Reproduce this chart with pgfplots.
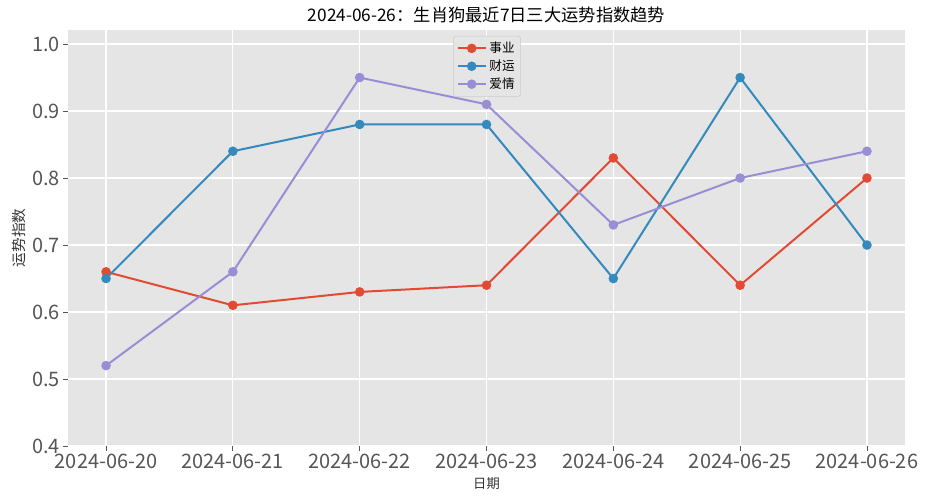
\documentclass[border=0pt]{standalone}
\usepackage{pgfplots}
\pgfplotsset{compat=1.18}
\usepackage{fontspec}
\setmainfont{Noto Sans CJK SC}
\definecolor{bgc}{HTML}{E5E5E5}
\definecolor{tickc}{HTML}{555555}
\definecolor{c1}{HTML}{E24A33}
\definecolor{c2}{HTML}{348ABD}
\definecolor{c3}{HTML}{988ED5}
\begin{document}
\begin{tikzpicture}
\useasboundingbox (-51bp,-40.5bp) rectangle (645.75bp,334.5bp);
\begin{axis}[
  width=627.75bp, height=312bp, scale only axis,
  xmin=-0.3, xmax=6.3, ymin=0.4, ymax=1.021,
  axis background/.style={fill=bgc},
  axis line style={draw=none},
  grid=major, major grid style={white, line width=0.9bp},
  xtick={0,1,2,3,4,5,6},
  xticklabels={2024-06-20,2024-06-21,2024-06-22,2024-06-23,2024-06-24,2024-06-25,2024-06-26},
  ytick={0.4,0.5,0.6,0.7,0.8,0.9,1.0},
  /pgf/number format/fixed, /pgf/number format/fixed zerofill, /pgf/number format/precision=1,
  /pgf/number format/assume math mode=true,
  tick pos=left, tick align=outside, major tick length=3.5bp,
  tick style={color=tickc, line width=0.6bp},
  ticklabel style={font=\fontsize{15}{17}\selectfont, text=tickc},
  xticklabel style={yshift=1bp},
  yticklabel style={xshift=1bp},
  xlabel={日期}, ylabel={运势指数},
  label style={text=black!80},
  xlabel style={font=\fontsize{10}{12}\selectfont, yshift=0bp},
  ylabel style={font=\fontsize{11}{13}\selectfont, yshift=-2bp},
  title={2024-06-26：生肖狗最近7日三大运势指数趋势},
  title style={font=\fontsize{13}{15}\selectfont, yshift=-4bp},
  legend style={at={(0.5006,0.986)}, anchor=north, fill=bgc, draw=black!20, rounded corners=2bp,
    font=\fontsize{9.5}{11}\selectfont, row sep=0bp, inner sep=2.5bp},
  legend cell align=left,
  legend image code/.code={\draw[mark repeat=2,mark phase=2] plot coordinates {(0bp,0bp)(10.5bp,0bp)(21bp,0bp)};},
  every axis plot/.append style={line width=1.5bp, mark=*, mark size=2.8bp},
]
\addplot[color=c1, mark options={fill=c1, draw=c1}] coordinates {(0,0.66)(1,0.61)(2,0.63)(3,0.64)(4,0.83)(5,0.64)(6,0.80)};
\addlegendentry{事业}
\addplot[color=c2, mark options={fill=c2, draw=c2}] coordinates {(0,0.65)(1,0.84)(2,0.88)(3,0.88)(4,0.65)(5,0.95)(6,0.70)};
\addlegendentry{财运}
\addplot[color=c3, mark options={fill=c3, draw=c3}] coordinates {(0,0.52)(1,0.66)(2,0.95)(3,0.91)(4,0.73)(5,0.80)(6,0.84)};
\addlegendentry{爱情}
\end{axis}
\end{tikzpicture}
\end{document}
